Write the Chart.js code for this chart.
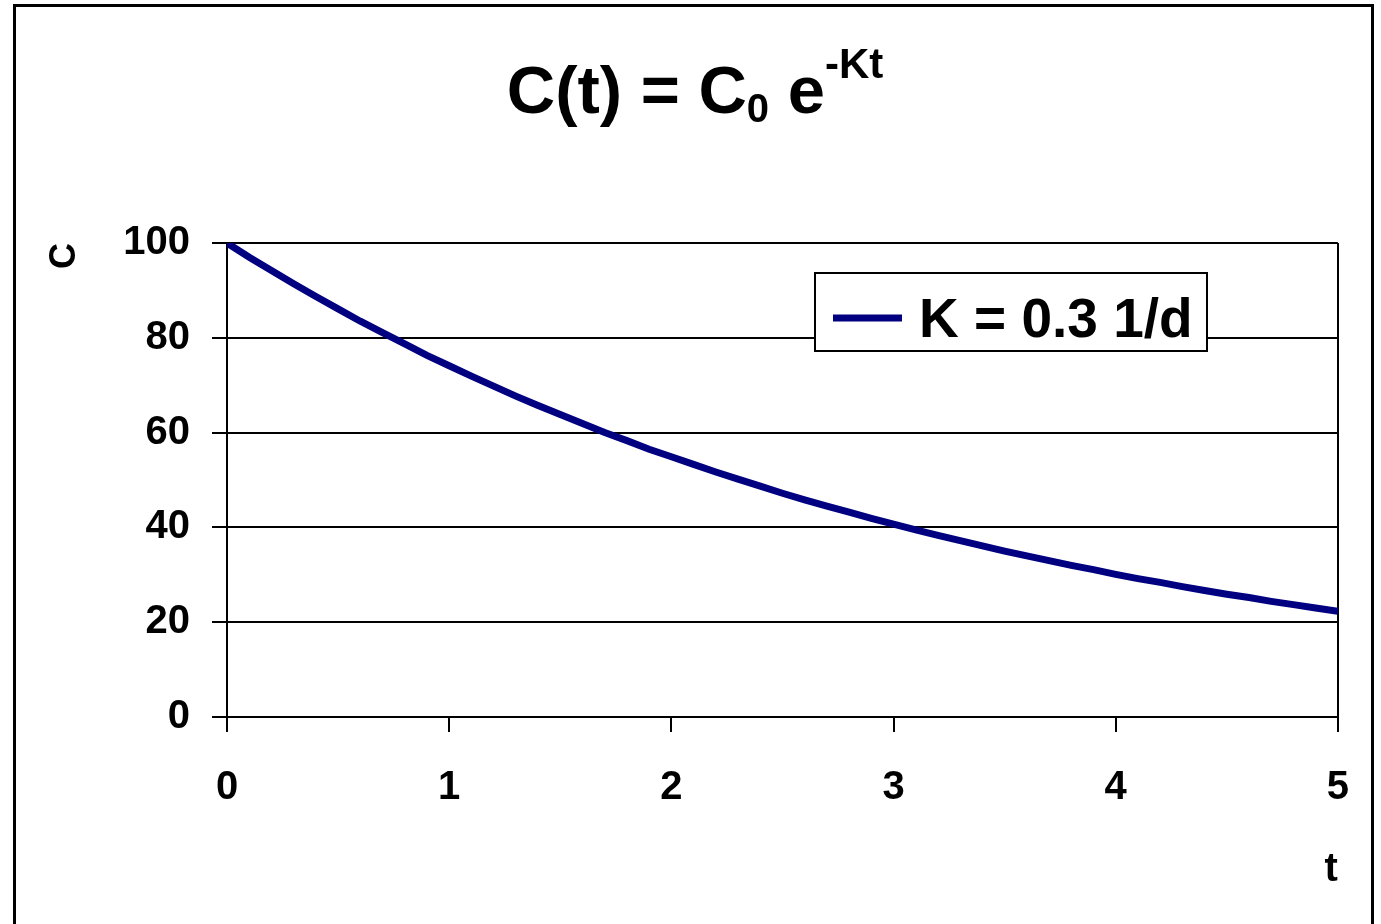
<!DOCTYPE html>
<html>
<head>
<meta charset="utf-8">
<script src="https://cdn.jsdelivr.net/npm/chart.js@4/dist/chart.umd.min.js"></script>
<style>
  html, body { margin: 0; padding: 0; background: #fff; }
  #wrap { width: 1381px; height: 924px; position: relative; }
</style>
</head>
<body>
<div id="wrap"><canvas id="c" width="1381" height="924"></canvas></div>
<script>
// ---- data ----
const tValues = [0,0.1,0.2,0.3,0.4,0.5,0.6,0.7,0.8,0.9,
  1,1.1,1.2,1.3,1.4,1.5,1.6,1.7,1.8,1.9,
  2,2.1,2.2,2.3,2.4,2.5,2.6,2.7,2.8,2.9,
  3,3.1,3.2,3.3,3.4,3.5,3.6,3.7,3.8,3.9,
  4,4.1,4.2,4.3,4.4,4.5,4.6,4.7,4.8,4.9,5];
const cValues = [100,97.0,94.2,91.4,88.7,86.1,83.5,81.1,78.7,76.3,
  74.1,71.9,69.8,67.7,65.7,63.8,61.9,60.0,58.3,56.5,
  54.9,53.3,51.7,50.2,48.7,47.2,45.8,44.5,43.2,41.9,
  40.7,39.5,38.3,37.2,36.1,35.0,34.0,33.0,32.0,31.1,
  30.1,29.2,28.4,27.5,26.7,25.9,25.2,24.4,23.7,23.0,22.3];
const seriesLabel = 'K = 0.3 1/d';
const xTitle = 't';
const yTitle = 'C';

const FONT = "'Liberation Sans', Arial, sans-serif";
const NAVY = '#000080';

// Outer frame + white background
const framePlugin = {
  id: 'frame',
  beforeDraw(chart) {
    const ctx = chart.ctx;
    ctx.save();
    ctx.fillStyle = '#fff';
    ctx.fillRect(0, 0, chart.width, chart.height);
    ctx.strokeStyle = '#000';
    ctx.lineWidth = 3;
    ctx.strokeRect(14.5, 5.5, 1358, 1000);
    ctx.restore();
  }
};

// Title with subscript / superscript
const titlePlugin = {
  id: 'mathTitle',
  afterDraw(chart) {
    const ctx = chart.ctx;
    const parts = [
      {t: 'C(t) = C', size: 67, dy: 0},
      {t: '0', size: 40, dy: 9},
      {t: ' e', size: 67, dy: 0},
      {t: '-Kt', size: 42, dy: -35}
    ];
    ctx.save();
    ctx.fillStyle = '#000';
    ctx.textBaseline = 'alphabetic';
    ctx.textAlign = 'left';
    let total = 0;
    parts.forEach(p => { ctx.font = `bold ${p.size}px ${FONT}`; p.w = ctx.measureText(p.t).width; total += p.w; });
    let x = 695 - total / 2;
    const base = 113;
    parts.forEach(p => {
      ctx.font = `bold ${p.size}px ${FONT}`;
      ctx.fillText(p.t, x, base + p.dy);
      x += p.w;
    });
    ctx.restore();
  }
};

// Boxed legend inside the plot area
const legendPlugin = {
  id: 'boxLegend',
  afterDatasetsDraw(chart) {
    const ctx = chart.ctx;
    const a = chart.chartArea;
    const ds = chart.data.datasets[0];
    const bx = a.left + 588, by = a.top + 30, bw = 392, bh = 78;
    ctx.save();
    ctx.fillStyle = '#fff';
    ctx.fillRect(bx, by, bw, bh);
    ctx.strokeStyle = '#000';
    ctx.lineWidth = 2;
    ctx.strokeRect(bx, by, bw, bh);
    ctx.strokeStyle = ds.borderColor;
    ctx.lineWidth = 7;
    ctx.beginPath();
    ctx.moveTo(bx + 18, by + 45);
    ctx.lineTo(bx + 87, by + 45);
    ctx.stroke();
    ctx.fillStyle = '#000';
    ctx.font = `bold 55px ${FONT}`;
    ctx.textAlign = 'left';
    ctx.textBaseline = 'alphabetic';
    ctx.fillText(ds.label, bx + 104, by + 64);
    ctx.restore();
  }
};

const points = tValues.map((t, i) => ({x: t, y: cValues[i]}));

new Chart(document.getElementById('c'), {
  type: 'line',
  data: {
    datasets: [{
      label: seriesLabel,
      data: points,
      borderColor: NAVY,
      backgroundColor: NAVY,
      borderWidth: 7,
      pointRadius: 0,
      tension: 0,
      fill: false
    }]
  },
  options: {
    responsive: false,
    animation: false,
    events: [],
    layout: { padding: { top: 243, right: 39, bottom: 0, left: 0 } },
    plugins: {
      legend: { display: false },
      title: { display: false },
      tooltip: { enabled: false }
    },
    scales: {
      x: {
        type: 'linear',
        min: 0, max: 5,
        afterFit(scale) { scale.height = 207; },
        ticks: {
          stepSize: 1,
          padding: 32,
          color: '#000',
          font: { family: FONT, size: 40, weight: 'bold' }
        },
        grid: {
          drawOnChartArea: true,
          color: ctx => (ctx.tick && ctx.tick.value === 5) ? '#000' : 'rgba(0,0,0,0)',
          tickColor: '#000',
          lineWidth: 2,
          tickLength: 15,
          drawTicks: true
        },
        border: { display: true, color: '#000', width: 2 },
        title: {
          display: true,
          text: xTitle,
          align: 'end',
          color: '#000',
          padding: { top: 0, bottom: 30 },
          font: { family: FONT, size: 40, weight: 'bold' }
        }
      },
      y: {
        min: 0, max: 100,
        afterFit(scale) { scale.width = 227; },
        ticks: {
          stepSize: 20,
          padding: 22,
          color: '#000',
          font: { family: FONT, size: 40, weight: 'bold' }
        },
        grid: {
          color: '#000',
          lineWidth: 2,
          tickLength: 15,
          drawTicks: true
        },
        border: { display: true, color: '#000', width: 2 },
        title: {
          display: true,
          text: yTitle,
          align: 'end',
          color: '#000',
          padding: { top: 43, bottom: 0 },
          font: { family: FONT, size: 36, weight: 'bold' }
        }
      }
    }
  },
  plugins: [framePlugin, titlePlugin, legendPlugin]
});
</script>
</body>
</html>
